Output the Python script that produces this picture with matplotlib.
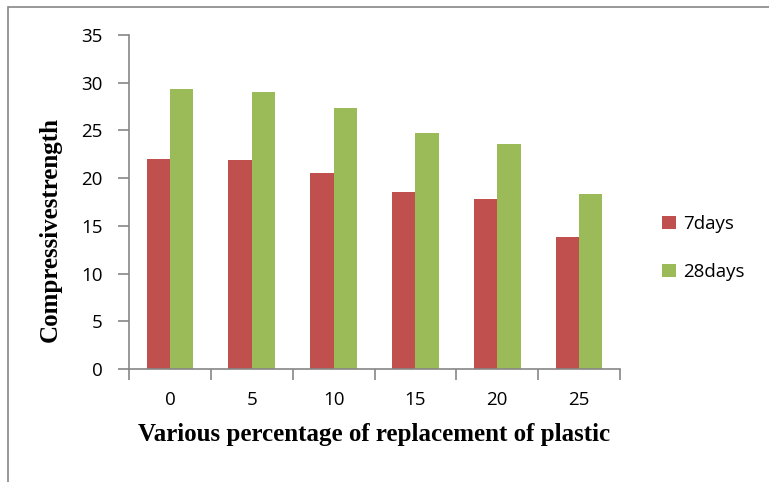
import matplotlib
matplotlib.use("Agg")
import matplotlib.pyplot as plt
import numpy as np
from matplotlib.patches import Rectangle

categories = ["0", "5", "10", "15", "20", "25"]
days7 = [22.0, 21.9, 20.5, 18.6, 17.8, 13.8]
days28 = [29.3, 29.0, 27.3, 24.7, 23.6, 18.3]
yticks = [0, 5, 10, 15, 20, 25, 30, 35]

W, H = 769, 482
fig = plt.figure(figsize=(W / 100, H / 100), dpi=100)
ax = fig.add_axes([129 / W, 1 - 369 / H, (620 - 129) / W, (369 - 35) / H])

x = np.arange(len(categories))
bw = 0.285
red = "#C0504D"
green = "#9BBB59"
ax.bar(x - bw / 2, days7, bw, color=red, label="7days")
ax.bar(x + bw / 2, days28, bw, color=green, label="28days")

ax.set_xlim(-0.5, len(categories) - 0.5)
ax.set_ylim(0, 35)
ax.set_yticks(yticks)
ax.set_xticks(x)
ax.set_xticklabels(categories)
ax.set_xticks(np.arange(-0.5, len(categories), 1.0), minor=True)

fam = ["Open Sans", "DejaVu Sans"]
for lab in ax.get_xticklabels() + ax.get_yticklabels():
    lab.set_fontfamily(fam)
    lab.set_fontsize(13.5)

for s in ["top", "right"]:
    ax.spines[s].set_visible(False)
for s in ["left", "bottom"]:
    ax.spines[s].set_color("#868686")
    ax.spines[s].set_linewidth(1.2)

ax.tick_params(axis="y", length=8, width=1.2, color="#868686", pad=11)
ax.tick_params(axis="x", which="major", length=0, pad=16)
ax.tick_params(axis="x", which="minor", length=8, width=1.2, color="#868686")

ax.set_xlabel("Various percentage of replacement of plastic",
              fontfamily="Liberation Serif", fontweight="bold", fontsize=18, labelpad=10)
ax.set_ylabel("Compressivestrength",
              fontfamily="Liberation Serif", fontweight="bold", fontsize=18)
ax.yaxis.set_label_coords((62 - 129) / 491, (369 - 230) / 334)

leg = ax.legend(loc="center left", bbox_to_anchor=(645 / W, 1 - 248 / H),
                bbox_transform=fig.transFigure, frameon=False,
                prop={"family": fam, "size": 13.5},
                handlelength=0.75, handleheight=0.75, handletextpad=0.4,
                labelspacing=1.6)

# outer border (chart area frame, right and bottom off-image)
fig.patches.append(Rectangle((8 / W, -0.1), 1.2, 1 - 7 / H + 0.1,
                             transform=fig.transFigure, fill=False,
                             edgecolor="#868686", linewidth=1.2))

fig.savefig("out.png", dpi=100)
